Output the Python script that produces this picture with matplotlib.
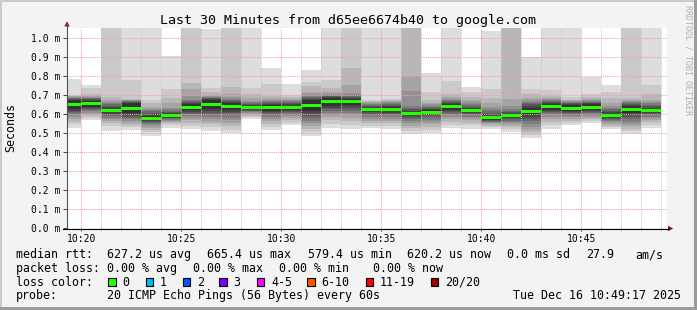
import numpy as np
import matplotlib.pyplot as plt
from matplotlib.patches import Rectangle, Polygon

plt.rcParams['font.family'] = ['DejaVu Sans Mono']

# one rrd row per minute, the value belongs to the step that ends at this time
times = ['10:20', '10:21', '10:22', '10:23', '10:24', '10:25', '10:26', '10:27', '10:28', '10:29',
         '10:30', '10:31', '10:32', '10:33', '10:34', '10:35', '10:36', '10:37', '10:38', '10:39',
         '10:40', '10:41', '10:42', '10:43', '10:44', '10:45', '10:46', '10:47', '10:48', '10:49']

# median rtt (ms) per step -> green line
medians = [0.651, 0.656, 0.621, 0.632, 0.5794, 0.593, 0.638, 0.651, 0.642, 0.635,
           0.635, 0.635, 0.647, 0.6654, 0.665, 0.626, 0.626, 0.605, 0.612, 0.640,
           0.621, 0.581, 0.593, 0.617, 0.640, 0.633, 0.638, 0.595, 0.624, 0.6202]

# the 20 sorted pings (ms) of every step, 1.20 = above the top of the graph
pings = [
    [0.530, 0.547, 0.562, 0.575, 0.586, 0.596, 0.605, 0.613, 0.620, 0.628, 0.674, 0.678, 0.682, 0.685, 0.688, 0.691, 0.694, 0.697, 0.702, 0.787],
    [0.568, 0.582, 0.592, 0.601, 0.609, 0.616, 0.623, 0.629, 0.635, 0.641, 0.671, 0.676, 0.680, 0.684, 0.688, 0.692, 0.697, 0.705, 0.738, 0.752],
    [0.512, 0.538, 0.556, 0.566, 0.575, 0.583, 0.590, 0.597, 0.604, 0.612, 0.630, 0.638, 0.645, 0.652, 0.658, 0.665, 0.675, 0.690, 1.20, 1.20],
    [0.517, 0.533, 0.545, 0.556, 0.565, 0.573, 0.580, 0.587, 0.594, 0.605, 0.659, 0.662, 0.665, 0.668, 0.671, 0.674, 0.677, 0.679, 0.781, 1.20],
    [0.486, 0.507, 0.520, 0.530, 0.540, 0.548, 0.554, 0.559, 0.564, 0.568, 0.590, 0.600, 0.608, 0.615, 0.622, 0.630, 0.640, 0.658, 0.675, 1.20],
    [0.526, 0.545, 0.554, 0.561, 0.566, 0.571, 0.575, 0.579, 0.582, 0.585, 0.601, 0.608, 0.614, 0.620, 0.627, 0.635, 0.660, 0.688, 0.731, 0.907],
    [0.523, 0.538, 0.556, 0.570, 0.582, 0.592, 0.600, 0.607, 0.614, 0.622, 0.654, 0.660, 0.665, 0.669, 0.673, 0.696, 0.731, 0.766, 1.20, 1.20],
    [0.514, 0.532, 0.548, 0.562, 0.575, 0.587, 0.598, 0.608, 0.618, 0.628, 0.674, 0.679, 0.684, 0.688, 0.692, 0.696, 0.702, 0.715, 0.738, 1.047],
    [0.500, 0.520, 0.540, 0.556, 0.570, 0.583, 0.595, 0.605, 0.614, 0.624, 0.660, 0.665, 0.670, 0.676, 0.682, 0.692, 0.705, 0.745, 1.20, 1.20],
    [0.575, 0.585, 0.593, 0.600, 0.606, 0.611, 0.616, 0.620, 0.624, 0.627, 0.643, 0.648, 0.653, 0.658, 0.664, 0.672, 0.685, 0.705, 0.738, 1.20],
    [0.517, 0.535, 0.550, 0.563, 0.576, 0.588, 0.598, 0.606, 0.613, 0.620, 0.650, 0.656, 0.662, 0.667, 0.672, 0.678, 0.686, 0.696, 0.760, 0.842],
    [0.544, 0.556, 0.568, 0.580, 0.590, 0.598, 0.606, 0.613, 0.619, 0.624, 0.646, 0.652, 0.658, 0.664, 0.669, 0.675, 0.683, 0.690, 0.700, 0.760],
    [0.486, 0.505, 0.522, 0.538, 0.553, 0.567, 0.580, 0.593, 0.606, 0.620, 0.674, 0.680, 0.686, 0.692, 0.698, 0.706, 0.720, 0.748, 0.772, 0.833],
    [0.530, 0.550, 0.568, 0.585, 0.598, 0.608, 0.617, 0.626, 0.635, 0.645, 0.685, 0.690, 0.694, 0.698, 0.702, 0.706, 0.715, 0.740, 0.780, 1.20],
    [0.525, 0.545, 0.563, 0.580, 0.594, 0.606, 0.617, 0.627, 0.637, 0.647, 0.683, 0.688, 0.693, 0.698, 0.703, 0.710, 0.754, 0.843, 1.20, 1.20],
    [0.526, 0.540, 0.554, 0.566, 0.577, 0.587, 0.596, 0.604, 0.611, 0.617, 0.635, 0.640, 0.645, 0.650, 0.655, 0.660, 0.665, 0.670, 0.678, 1.20],
    [0.521, 0.538, 0.552, 0.564, 0.575, 0.585, 0.594, 0.602, 0.609, 0.615, 0.637, 0.643, 0.648, 0.653, 0.658, 0.663, 0.668, 0.673, 0.682, 1.20],
    [0.497, 0.512, 0.527, 0.540, 0.553, 0.565, 0.574, 0.582, 0.590, 0.597, 0.613, 0.620, 0.627, 0.634, 0.644, 0.723, 0.800, 1.20, 1.20, 1.20],
    [0.503, 0.520, 0.535, 0.549, 0.561, 0.572, 0.582, 0.590, 0.597, 0.603, 0.621, 0.627, 0.633, 0.639, 0.645, 0.652, 0.662, 0.675, 0.716, 0.819],
    [0.526, 0.545, 0.560, 0.574, 0.586, 0.596, 0.604, 0.611, 0.617, 0.624, 0.656, 0.662, 0.667, 0.672, 0.677, 0.683, 0.693, 0.708, 0.778, 1.20],
    [0.525, 0.542, 0.556, 0.568, 0.579, 0.588, 0.596, 0.603, 0.609, 0.614, 0.628, 0.634, 0.641, 0.648, 0.656, 0.665, 0.678, 0.693, 0.718, 0.745],
    [0.521, 0.532, 0.540, 0.547, 0.553, 0.558, 0.562, 0.565, 0.568, 0.570, 0.592, 0.600, 0.608, 0.617, 0.627, 0.640, 0.660, 0.688, 0.735, 1.040],
    [0.509, 0.522, 0.533, 0.543, 0.552, 0.560, 0.567, 0.574, 0.580, 0.586, 0.600, 0.606, 0.612, 0.620, 0.630, 0.644, 0.679, 1.20, 1.20, 1.20],
    [0.473, 0.490, 0.505, 0.520, 0.535, 0.550, 0.563, 0.575, 0.588, 0.600, 0.634, 0.645, 0.653, 0.660, 0.667, 0.675, 0.688, 0.705, 0.735, 0.903],
    [0.524, 0.545, 0.562, 0.576, 0.588, 0.598, 0.606, 0.613, 0.619, 0.625, 0.655, 0.660, 0.665, 0.670, 0.675, 0.680, 0.688, 0.698, 0.728, 1.20],
    [0.545, 0.556, 0.566, 0.576, 0.585, 0.593, 0.600, 0.607, 0.613, 0.619, 0.647, 0.652, 0.657, 0.661, 0.665, 0.669, 0.673, 0.678, 0.690, 1.20],
    [0.552, 0.563, 0.573, 0.582, 0.590, 0.598, 0.605, 0.612, 0.618, 0.624, 0.652, 0.657, 0.662, 0.666, 0.670, 0.675, 0.681, 0.690, 0.705, 0.798],
    [0.521, 0.532, 0.541, 0.550, 0.558, 0.565, 0.571, 0.577, 0.582, 0.586, 0.604, 0.612, 0.619, 0.626, 0.634, 0.645, 0.660, 0.685, 0.715, 0.754],
    [0.494, 0.510, 0.524, 0.537, 0.550, 0.562, 0.574, 0.585, 0.596, 0.606, 0.642, 0.648, 0.653, 0.658, 0.663, 0.668, 0.676, 0.688, 1.20, 1.20],
    [0.530, 0.545, 0.558, 0.569, 0.579, 0.588, 0.596, 0.603, 0.609, 0.614, 0.626, 0.634, 0.642, 0.650, 0.658, 0.666, 0.676, 0.705, 0.754, 1.20],
]

loss_labels = ['0', '1', '2', '3', '4-5', '6-10', '11-19', '20/20']
loss_colors = ['#26ff00', '#00b8ff', '#0059ff', '#7e00ff', '#ff00ff', '#ff5500', '#ff0000', '#a00000']

title = 'Last 30 Minutes from d65ee6674b40 to google.com'
stamp = 'Tue Dec 16 10:49:17 2025'


def minutes(s):
    parts = [int(v) for v in s.split(':')]
    return parts[0] * 60 + parts[1] + (parts[2] / 60 if len(parts) > 2 else 0)


t_end = [minutes(t) for t in times]
t1 = minutes(stamp.split()[3])
t0 = t1 - 30

W, H = 697, 310
fig = plt.figure(figsize=(W / 100, H / 100), dpi=100, facecolor='#f3f3f3')
ax = fig.add_axes([67 / W, 1 - 228.3 / H, 600 / W, (228.3 - 27.7) / H])
ax.set_facecolor('white')
ax.set_xlim(t0, t1)
ax.set_ylim(0, 1.056)

# smoke: band i goes from ping i to ping n-i+1, lighter on the outside
n = 20
half = n // 2
for te, p, med in zip(t_end, pings, medians):
    left = max(te - 1, t0)
    for i in range(1, half + 1):
        c = int(190 / half * (half - i)) + 50
        ax.bar(left, p[n - i] - p[i - 1], width=te - left, bottom=p[i - 1], align='edge',
               color='#%02x%02x%02x' % (c, c, c), lw=0, zorder=1)
    ax.bar(left, 0.016, width=te - left, bottom=med - 0.008, align='edge',
           color=loss_colors[0], lw=0, zorder=3)

major = [m for m in t_end if m % 5 == 0]
ax.set_xticks(major)
ax.set_xticklabels([t for t in times if minutes(t) % 5 == 0])
ax.set_xticks([m for m in t_end if m % 5], minor=True)
yt = np.arange(0, 11) / 10
ax.set_yticks(yt)
ax.set_yticklabels(['%.1f m' % v for v in yt])
ax.grid(which='major', color='#f2a0a0', ls=(0, (1, 1)), lw=0.75)
ax.grid(which='minor', axis='x', color='#c6c6c6', ls=(0, (1, 1)), lw=0.75)
ax.set_axisbelow(False)
for s in ax.spines.values():
    s.set_visible(False)
ax.tick_params(axis='both', which='both', labelsize=7, colors='black')
ax.tick_params(axis='x', which='major', length=2.2, width=0.7, pad=1.8, color='#404040')
ax.tick_params(axis='x', which='minor', length=1.5, width=0.7, color='#404040')
ax.tick_params(axis='y', length=2.9, width=0.7, pad=2.0, color='#404040')

# frame, axis arrows and the rrdtool style legend, in pixel coordinates
ov = fig.add_axes([0, 0, 1, 1], zorder=5)
ov.set_xlim(0, W)
ov.set_ylim(H, 0)
ov.axis('off')
ov.add_patch(Rectangle((0, 0), W, 2, color='#cbcbcb', lw=0))
ov.add_patch(Rectangle((0, 0), 2, H, color='#cbcbcb', lw=0))
ov.add_patch(Rectangle((0, H - 3), W, 3, color='#9b9b9b', lw=0))
ov.add_patch(Rectangle((W - 3, 0), 3, H, color='#9b9b9b', lw=0))

ov.plot([67, 67], [228.5, 24], color='#505050', lw=0.8)
ov.plot([63, 669], [228.5, 228.5], color='black', lw=0.8)
ov.add_patch(Polygon([(64.3, 26.5), (69.7, 26.5), (67, 21.3)], color='#7a1c1c', lw=0))
ov.add_patch(Polygon([(668, 225.8), (668, 231.2), (673.2, 228.5)], color='#7a1c1c', lw=0))

ov.text(348, 24, title, ha='center', va='baseline', fontsize=9.6)
ov.text(11, 127, 'Seconds', rotation=90, ha='center', va='center', fontsize=8.4)
ov.text(688, 5, 'RRDTOOL / TOBI OETIKER', rotation=270, ha='center', va='top',
        fontsize=6, color='#b0b0b0')

fs = 8.4
rows = [258.3, 271.7, 285.7, 299.3]
ov.text(16, rows[0], 'median rtt:', fontsize=fs, va='baseline')
for x, s in [(106.7, '%.1f us avg' % (np.mean(medians) * 1000)),
             (206.7, '%.1f us max' % (max(medians) * 1000)),
             (308.5, '%.1f us min' % (min(medians) * 1000)),
             (406.7, '%.1f us now' % (medians[-1] * 1000)),
             (506.7, '0.0 ms sd'), (586, '27.9'), (635, 'am/s')]:
    ov.text(x, rows[0], s, fontsize=fs, va='baseline')

ov.text(16, rows[1], 'packet loss:', fontsize=fs, va='baseline')
for x, s in [(106.7, '0.00 % avg'), (193.3, '0.00 % max'), (279.3, '0.00 % min'), (373.3, '0.00 % now')]:
    ov.text(x, rows[1], s, fontsize=fs, va='baseline')

ov.text(16, rows[2], 'loss color:', fontsize=fs, va='baseline')
box_x = [108.3, 145.7, 182.7, 219.3, 256.7, 307.3, 365.7, 430.7]
for bx, lab, col in zip(box_x, loss_labels, loss_colors):
    ov.add_patch(Rectangle((bx, 278.3), 7.7, 7.7, facecolor=col, edgecolor='black', lw=0.8))
    ov.text(bx + 14.4, rows[2], lab, fontsize=fs, va='baseline')

ov.text(16, rows[3], 'probe:', fontsize=fs, va='baseline')
ov.text(106.7, rows[3], '20 ICMP Echo Pings (56 Bytes) every 60s', fontsize=fs, va='baseline')
ov.text(513.3, rows[3], stamp, fontsize=fs, va='baseline')

fig.savefig('out.png', dpi=100, facecolor=fig.get_facecolor())
